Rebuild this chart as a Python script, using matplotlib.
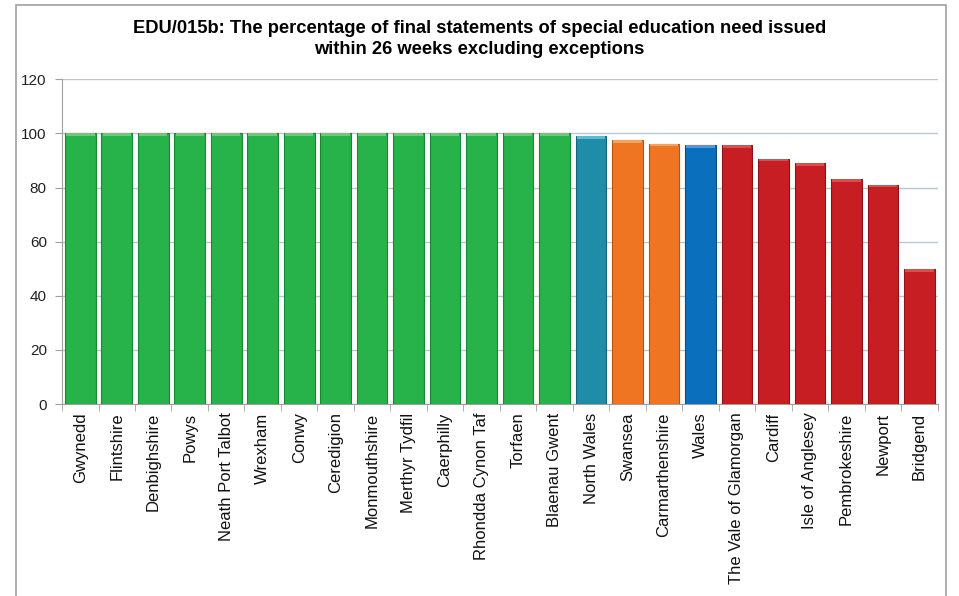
import matplotlib.pyplot as plt
from matplotlib.patches import Rectangle
import numpy as np

plt.rcParams['font.family'] = ['Liberation Sans', 'DejaVu Sans']

areas = ["Gwynedd", "Flintshire", "Denbighshire", "Powys", "Neath Port Talbot",
         "Wrexham", "Conwy", "Ceredigion", "Monmouthshire", "Merthyr Tydfil",
         "Caerphilly", "Rhondda Cynon Taf", "Torfaen", "Blaenau Gwent",
         "North Wales", "Swansea", "Carmarthenshire", "Wales",
         "The Vale of Glamorgan", "Cardiff", "Isle of Anglesey",
         "Pembrokeshire", "Newport", "Bridgend"]
percent = [100, 100, 100, 100, 100, 100, 100, 100, 100, 100, 100, 100, 100, 100,
           99.0, 97.5, 96.2, 95.6, 95.6, 90.7, 88.9, 83.1, 81.1, 49.8]
band = ["green"] * 14 + ["region", "amber", "amber", "wales"] + ["red"] * 6

fills = {"green": "#27b24a", "region": "#1f8ca8", "amber": "#f07522",
         "wales": "#0a6fbd", "red": "#c71e24"}
edges = {"green": "#168a33", "region": "#16657a", "amber": "#b85515",
         "wales": "#074f88", "red": "#8e1318"}
tops = {"green": "#5fcf78", "region": "#5bb9d3", "amber": "#f9a25a",
        "wales": "#4a9be0", "red": "#e8474c"}

fig = plt.figure(figsize=(9.59, 5.96), dpi=100)
fig.patches.append(Rectangle((0.017, -0.01), 0.969, 1.002, transform=fig.transFigure,
                             fill=False, edgecolor="#a0a0a0", linewidth=1.2))

ax = fig.add_axes([0.0647, 0.322, 0.913, 0.545])
x = np.arange(len(areas))
ax.bar(x, percent, width=0.84,
       color=[fills[b] for b in band],
       edgecolor=[edges[b] for b in band], linewidth=0.8, zorder=3)
# light bevel along the top of each bar
ax.bar(x, [1.0] * len(areas), bottom=[p - 1.0 for p in percent], width=0.78,
       color=[tops[b] for b in band], linewidth=0, zorder=4)

ax.set_xlim(-0.5, len(areas) - 0.5)
ax.set_ylim(0, 120)
ax.set_yticks(range(0, 121, 20))
ax.grid(axis="y", color="#b9c7d2", linewidth=1.0, zorder=0)
ax.set_axisbelow(True)

ax.set_xticks(x)
ax.set_xticklabels(areas, rotation=90, fontsize=12, color="#111111")
ax.set_xticks(np.arange(-0.5, len(areas), 1), minor=True)
ax.tick_params(axis="x", which="major", length=0, pad=6)
ax.tick_params(axis="x", which="minor", length=5, color="#a0a0a0")
ax.tick_params(axis="y", length=5, color="#a0a0a0", labelsize=11,
               labelcolor="#222222", pad=6)

for side in ["top", "right"]:
    ax.spines[side].set_visible(False)
ax.spines["left"].set_color("#a0a0a0")
ax.spines["bottom"].set_color("#a0a0a0")

fig.text(0.5, 0.966, "EDU/015b: The percentage of final statements of special education need issued\nwithin 26 weeks excluding exceptions",
         ha="center", va="top", fontsize=13.2, fontweight="bold", linespacing=1.3)

fig.savefig("out.png", dpi=100)
